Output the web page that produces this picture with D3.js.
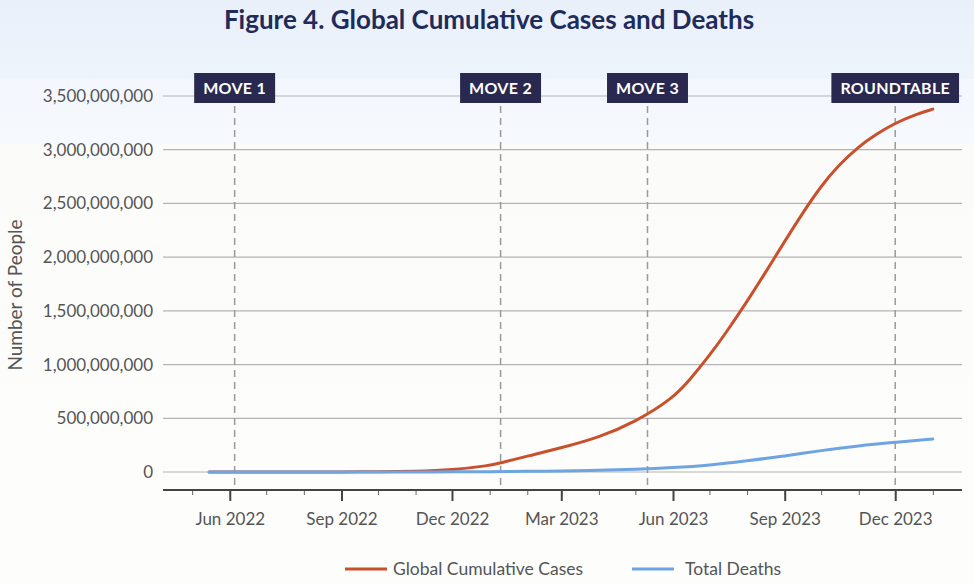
<!DOCTYPE html>
<html><head><meta charset="utf-8">
<script src="https://cdn.jsdelivr.net/npm/d3@7"></script>
<style>body{margin:0;background:#fff}svg{display:block}</style>
</head><body>
<svg id="chart" width="974" height="585"></svg>
<script>
// ---- data ----
const caseDates = ["2022-05-15","2022-06-01","2022-07-01","2022-08-01","2022-09-01","2022-10-01","2022-11-01","2022-12-01",
  "2023-01-01","2023-01-10","2023-02-01","2023-03-01","2023-04-01","2023-05-01","2023-06-01","2023-06-15",
  "2023-07-01","2023-07-15","2023-08-01","2023-08-15","2023-09-01","2023-09-15","2023-10-01","2023-10-15",
  "2023-11-01","2023-11-15","2023-12-01","2023-12-15","2024-01-01"];
const globalCases = [0,0,0,0,1e6,2e6,6e6,18e6,
  60e6,84e6,148e6,225e6,322e6,466e6,686e6,860e6,
  1084e6,1301e6,1587e6,1836e6,2147e6,2399e6,2663e6,2853e6,
  3031e6,3143e6,3247e6,3317e6,3378e6];
const deathDates = ["2022-05-15","2022-06-01","2022-07-01","2022-08-01","2022-09-01","2022-10-01","2022-11-01","2022-12-01",
  "2023-01-01","2023-02-01","2023-03-01","2023-04-01","2023-05-01","2023-06-01","2023-07-01","2023-08-01",
  "2023-09-01","2023-10-01","2023-11-01","2023-12-01","2024-01-01"];
const totalDeaths = [0,0,0,0,0,0,0.5e6,1e6,
  3e6,6e6,9e6,14e6,26e6,40e6,62e6,105e6,
  148e6,200e6,245e6,276e6,307e6];
const yTickValues = [0,500e6,1000e6,1500e6,2000e6,2500e6,3000e6,3500e6];
const xTickDates = ["2022-06-01","2022-09-01","2022-12-01","2023-03-01","2023-06-01","2023-09-01","2023-12-01"];
const eventDates = ["2022-06-05","2023-01-10","2023-05-11","2023-12-01"];
const eventLabels = ["MOVE 1","MOVE 2","MOVE 3","ROUNDTABLE"];
const seriesNames = ["Global Cumulative Cases","Total Deaths"];
const seriesColors = ["#c9502b","#6ea4e2"];
const titleText = "Figure 4. Global Cumulative Cases and Deaths";
const yTitle = "Number of People";

(function(){
// ---- setup ----
const parse = d3.utcParse("%Y-%m-%d");
const svg = d3.select("#chart");
const W = 974, H = 585;
const pLeft = 163, pRight = 962, pTop = 96, zeroY = 472, axisY = 490;
const font = "Lato, 'Open Sans', sans-serif";

// background
const defs = svg.append("defs");
const g = defs.append("linearGradient").attr("id","bg").attr("x1",0).attr("y1",0).attr("x2",0).attr("y2",1);
[[0,"#e9f0fa"],[0.135,"#eef4fb"],[0.136,"#f3f7fd"],[0.245,"#f6f9fd"],[0.25,"#fbfcfa"],[1,"#fdfdfc"]]
  .forEach(([o,c])=>g.append("stop").attr("offset",o).attr("stop-color",c));
svg.append("rect").attr("width",W).attr("height",H).attr("fill","url(#bg)");

const x = d3.scaleUtc().domain([parse("2022-04-07"), parse("2024-01-25")]).range([pLeft,pRight]);
const y = d3.scaleLinear().domain([0,3.5e9]).range([zeroY,pTop]);

// title
svg.append("text").attr("x",489).attr("y",29).attr("text-anchor","middle")
  .attr("font-family",font).attr("font-weight","bold").attr("font-size",26)
  .attr("fill","#1f2b5b").text(titleText);

// y axis grid + labels
const yAxis = d3.axisLeft(y).tickValues(yTickValues).tickSize(0).tickPadding(10)
  .tickFormat(d3.format(","));
const yg = svg.append("g").attr("transform",`translate(${pLeft},0)`).call(yAxis);
yg.select(".domain").remove();
yg.selectAll("text").attr("font-family",font).attr("font-size",17).attr("fill","#555");
svg.append("g").selectAll("line").data(yTickValues).join("line")
  .attr("x1",pLeft).attr("x2",pRight).attr("y1",d=>y(d)).attr("y2",d=>y(d))
  .attr("stroke","#b3b3b3").attr("stroke-width",1.2);

// y title
svg.append("text").attr("transform",`translate(22,295) rotate(-90)`).attr("text-anchor","middle")
  .attr("font-family",font).attr("font-size",19).attr("fill","#555").text(yTitle);

// x axis: minor monthly ticks
const minor = d3.axisBottom(x).ticks(d3.utcMonth.every(1)).tickSize(5).tickFormat("");
const xm = svg.append("g").attr("transform",`translate(0,${axisY})`).call(minor);
xm.select(".domain").remove();
xm.selectAll("line").attr("stroke","#666").attr("stroke-width",1);
const major = d3.axisBottom(x).tickValues(xTickDates.map(parse)).tickSize(11).tickPadding(12)
  .tickFormat(d3.utcFormat("%b %Y"));
const xg = svg.append("g").attr("transform",`translate(0,${axisY})`).call(major);
xg.select(".domain").remove();
xg.selectAll("line").attr("stroke","#444").attr("stroke-width",2);
xg.selectAll("text").attr("font-family",font).attr("font-size",17).attr("fill","#555");
svg.append("line").attr("x1",pLeft).attr("x2",pRight).attr("y1",axisY).attr("y2",axisY)
  .attr("stroke","#444").attr("stroke-width",2);

// event lines
const ev = eventDates.map((d,i)=>({date:parse(d),label:eventLabels[i]}));
svg.append("g").selectAll("line").data(ev).join("line")
  .attr("x1",d=>x(d.date)).attr("x2",d=>x(d.date)).attr("y1",106).attr("y2",axisY)
  .attr("stroke","#9a9a9a").attr("stroke-width",1.5).attr("stroke-dasharray","7,5");

// series lines (cases first, deaths on top)
const series = [
  {name:seriesNames[0],color:seriesColors[0],pts:caseDates.map((d,j)=>({date:parse(d),v:globalCases[j]}))},
  {name:seriesNames[1],color:seriesColors[1],pts:deathDates.map((d,j)=>({date:parse(d),v:totalDeaths[j]}))}
];
const line = d3.line().x(d=>x(d.date)).y(d=>y(d.v)).curve(d3.curveBasis);
svg.append("g").selectAll("path").data(series).join("path")
  .attr("d",d=>line(d.pts)).attr("fill","none").attr("stroke",d=>d.color)
  .attr("stroke-width",3).attr("stroke-linecap","round");

// event labels
const lg = svg.append("g").selectAll("g").data(ev).join("g")
  .attr("transform",d=>`translate(${x(d.date)},88)`);
lg.each(function(d){
  const gg = d3.select(this);
  const t = gg.append("text").attr("text-anchor","middle").attr("y",6)
    .attr("font-family",font).attr("font-weight","bold").attr("font-size",16)
    .attr("fill","#fff").attr("letter-spacing",0.3).text(d.label);
  const w = t.node().getComputedTextLength() + 18;
  gg.insert("rect","text").attr("x",-w/2).attr("y",-15).attr("width",w).attr("height",30)
    .attr("fill","#29284f");
});

// legend
const legendLineX = [345,632], legendTextX = [393,685];
const lgd = svg.append("g").selectAll("g").data(series).join("g");
lgd.append("line").attr("x1",(d,i)=>legendLineX[i]).attr("x2",(d,i)=>legendLineX[i]+42)
  .attr("y1",569).attr("y2",569).attr("stroke",d=>d.color).attr("stroke-width",3);
lgd.append("text").attr("x",(d,i)=>legendTextX[i]).attr("y",575).attr("font-family",font).attr("font-size",17.5)
  .attr("fill","#555").text(d=>d.name);
})();
</script>
</body></html>
